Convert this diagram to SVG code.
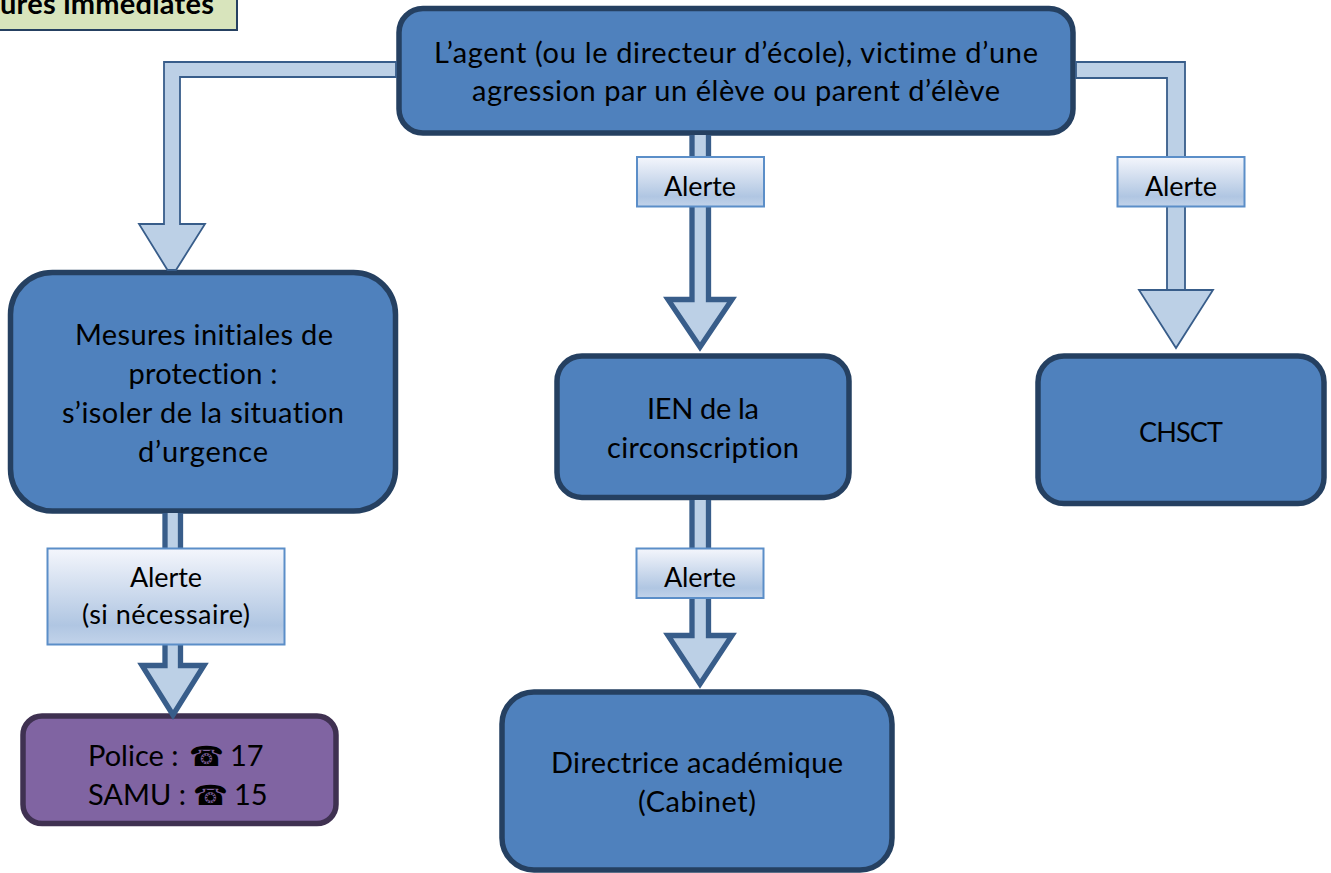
<svg xmlns="http://www.w3.org/2000/svg" width="1331" height="873" viewBox="0 0 1331 873">
<style>
text{font-family:"Lato","Liberation Sans",sans-serif;font-size:29px;fill:#000;text-anchor:middle;font-variant-ligatures:none}
.tel{font-family:"DejaVu Sans",sans-serif;font-size:28px}
.n{fill:#4F81BD;stroke:#254061;stroke-width:5.500}
.p{fill:#8064A2;stroke:#3F3151;stroke-width:5.500}
.a{fill:#BCD0E6;stroke:#385D8A;stroke-linejoin:miter}
.thin{stroke-width:1.800}
.thick{stroke-width:5.300}
.l{fill:url(#lg);stroke:#5B8EC8;stroke-width:2}
.g{fill:#D8E4BC;stroke:#254061;stroke-width:2}
.lab{font-size:27px}
</style>
<defs>
<linearGradient id="lg" x1="0" y1="0" x2="0" y2="1">
<stop offset="0" stop-color="#F4F6FC"/>
<stop offset="0.8" stop-color="#B0C6E2"/>
<stop offset="1" stop-color="#C2D3EA"/>
</linearGradient>
</defs>
<rect width="1331" height="873" fill="#fff"/>
<g id="title">
<rect class="g" x="-10" y="-10" width="247" height="40"/>
<text x="107" y="14" textLength="214" style="font-weight:700">ures immédiates</text>
</g>
<g id="node-agent">
<rect class="n" x="399" y="8.500" width="674" height="124.500" rx="24"/>
<text x="736" y="63" textLength="604">L’agent (ou le directeur d’école), victime d’une</text>
<text x="736" y="101" textLength="528">agression par un élève ou parent d’élève</text>
</g>
<g id="node-mesures">
<rect class="n" x="10.500" y="272.500" width="385" height="238.500" rx="42"/>
<text x="204" y="345" textLength="258">Mesures initiales de</text>
<text x="203" y="384" textLength="149">protection :</text>
<text x="203" y="423" textLength="282">s’isoler de la situation</text>
<text x="203" y="462" textLength="130">d’urgence</text>
</g>
<g id="node-ien">
<rect class="n" x="557" y="356" width="292" height="141.500" rx="25"/>
<text x="703" y="419" textLength="112">IEN de la</text>
<text x="703" y="458" textLength="192">circonscription</text>
</g>
<g id="node-chsct">
<rect class="n" x="1038" y="356" width="286" height="147.500" rx="26"/>
<text x="1181" y="442" textLength="84" style="font-size:27px">CHSCT</text>
</g>
<g id="node-directrice">
<rect class="n" x="502" y="692" width="390" height="178" rx="32"/>
<text x="697" y="773" textLength="292">Directrice académique</text>
<text x="697" y="812" textLength="118">(Cabinet)</text>
</g>
<g id="node-urgences">
<rect class="p" x="23" y="716" width="313" height="107.500" rx="19"/>
<text x="175" y="766" style="text-anchor:start"><tspan x="88">Police :</tspan><tspan class="tel" x="189">☎</tspan><tspan x="230">17</tspan></text>
<text x="175" y="805" style="text-anchor:start"><tspan x="88">SAMU :</tspan><tspan class="tel" x="193">☎</tspan><tspan x="234">15</tspan></text>
</g>
<g id="connectors">
<path class="a thin" d="M396 62V77H180V224H205L176 270H167.500L139 224H164V62Z"/>
<path class="a thin" d="M1076 62V78H1167V290H1213L1176 348L1139 290H1185V62Z"/>
<path class="a thick" d="M692 135V299.500H668L700 347L732 299.500H708.500V135"/>
<path class="a thick" d="M165 513V665.500H142L173 715L204 665.500H180.500V513"/>
<path class="a thick" d="M692 500V635.500H668L700 684L732 635.500H708.500V500"/>
</g>
<g id="label-alerte-1">
<rect class="l" x="637" y="157" width="127" height="49.500"/>
<text class="lab" x="700" y="196" textLength="72">Alerte</text>
</g>
<g id="label-alerte-2">
<rect class="l" x="1117.500" y="157" width="127" height="49.500"/>
<text class="lab" x="1181" y="196" textLength="72">Alerte</text>
</g>
<g id="label-alerte-3">
<rect class="l" x="47.500" y="548.500" width="237" height="96"/>
<text class="lab" x="166" y="587" textLength="72">Alerte</text>
<text class="lab" x="166" y="624" textLength="168">(si nécessaire)</text>
</g>
<g id="label-alerte-4">
<rect class="l" x="636.500" y="548.500" width="127" height="49.500"/>
<text class="lab" x="700" y="587" textLength="72">Alerte</text>
</g>
</svg>
